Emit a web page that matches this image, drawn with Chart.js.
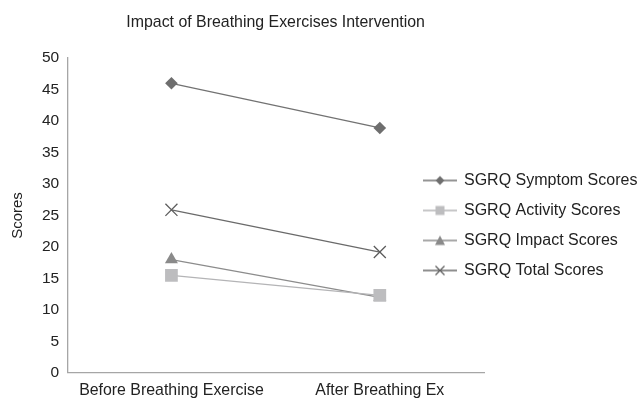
<!DOCTYPE html>
<html>
<head>
<meta charset="utf-8">
<script src="https://cdn.jsdelivr.net/npm/chart.js@4/dist/chart.umd.min.js"></script>
<style>
  html, body { margin: 0; padding: 0; background: #fff; }
  #wrap { width: 638px; height: 400px; position: relative; }
</style>
</head>
<body>
<div id="wrap"><canvas id="chart"></canvas></div>
<script>
const categories = ['Before Breathing Exercise', 'After Breathing Ex'];
const seriesNames = ['SGRQ Symptom Scores', 'SGRQ Activity Scores', 'SGRQ Impact Scores', 'SGRQ Total Scores'];
const symptomScores = [46, 38.9];
const activityScores = [15.5, 12.3];
const impactScores = [18, 12];
const totalScores = [25.9, 19.2];
const yMin = 0, yMax = 50, yStep = 5;

const FONT = '"Liberation Sans", Arial, sans-serif';

// small legend icon: line with the marker in the middle
function legendIcon(style, lineColor, markColor) {
  const c = document.createElement('canvas');
  c.width = 34; c.height = 14;
  const g = c.getContext('2d');
  g.strokeStyle = lineColor;
  g.lineWidth = 1.3;
  g.beginPath(); g.moveTo(0, 7); g.lineTo(34, 7); g.stroke();
  g.fillStyle = markColor;
  g.strokeStyle = markColor;
  g.beginPath();
  if (style === 'rectRot') {
    g.moveTo(17, 2.5); g.lineTo(21.5, 7); g.lineTo(17, 11.5); g.lineTo(12.5, 7); g.closePath(); g.fill();
  } else if (style === 'rect') {
    g.fillRect(12.5, 2.5, 9, 9);
  } else if (style === 'triangle') {
    g.moveTo(17, 2); g.lineTo(22, 11.5); g.lineTo(12, 11.5); g.closePath(); g.fill();
  } else {
    g.lineWidth = 1.2;
    g.moveTo(12.5, 2.5); g.lineTo(21.5, 11.5); g.moveTo(21.5, 2.5); g.lineTo(12.5, 11.5); g.stroke();
  }
  return c;
}

const seriesStyle = [
  { data: symptomScores, line: '#727272', mark: '#6e6e6e', style: 'rectRot', r: 6.3 },
  { data: activityScores, line: '#b4b4b6', mark: '#bdbdbf', style: 'rect', r: 9 },
  { data: impactScores, line: '#8c8c8c', mark: '#8a8a8a', style: 'triangle', r: 7.5 },
  { data: totalScores, line: '#6a6a6a', mark: '#5e5e5e', style: 'crossRot', r: 8.5 }
];

const icons = seriesStyle.map(s => legendIcon(s.style, s.line, s.mark));

const datasets = seriesStyle.map((s, i) => ({
  label: seriesNames[i],
  data: s.data,
  borderColor: s.line,
  borderWidth: 1.3,
  pointStyle: s.style,
  pointRadius: s.r,
  pointHoverRadius: s.r,
  pointBackgroundColor: s.mark,
  pointBorderColor: s.mark,
  pointBorderWidth: s.style === 'crossRot' ? 1.3 : 0,
  tension: 0,
  fill: false
}));

// the legend sits partly over the plot's right margin, like the original
const legendShift = {
  id: 'legendShift',
  afterLayout(chart) {
    const lg = chart.legend;
    if (!lg) return;
    lg.left = 410;
    lg.right = chart.width;
    lg.width = lg.right - lg.left;
    lg.top += 21;
    lg.bottom += 21;
  }
};

new Chart(document.getElementById('chart'), {
  type: 'line',
  data: { labels: categories, datasets: datasets },
  options: {
    responsive: true,
    maintainAspectRatio: false,
    animation: false,
    layout: { padding: { left: 9, right: 0, top: 9, bottom: 0 } },
    scales: {
      x: {
        offset: true,
        grid: { display: false },
        border: { color: '#a6a6a6', width: 1.3 },
        ticks: { color: '#222', font: { family: FONT, size: 15.9 }, padding: 0, maxRotation: 0, autoSkip: false }
      },
      y: {
        min: yMin,
        max: yMax,
        grid: { display: false },
        border: { color: '#a6a6a6', width: 1.3 },
        ticks: { stepSize: yStep, color: '#222', font: { family: FONT, size: 15.5 }, padding: 0 },
        title: { display: true, text: 'Scores', color: '#222', font: { family: FONT, size: 15 }, padding: { top: 0, bottom: 15 } }
      }
    },
    plugins: {
      title: {
        display: true,
        fullSize: false,
        text: 'Impact of Breathing Exercises Intervention',
        color: '#222',
        font: { family: FONT, size: 15.9, weight: 'normal' },
        padding: { top: 4, bottom: 26 }
      },
      legend: {
        position: 'right',
        maxWidth: 154,
        labels: {
          usePointStyle: true,
          pointStyleWidth: 32,
          color: '#222',
          font: { family: FONT, size: 16 },
          padding: 14,
          generateLabels(chart) {
            const items = Chart.defaults.plugins.legend.labels.generateLabels(chart);
            return items.map((it, i) => Object.assign(it, { pointStyle: icons[i] }));
          }
        }
      },
      tooltip: { enabled: false }
    }
  },
  plugins: [legendShift]
});
</script>
</body>
</html>
